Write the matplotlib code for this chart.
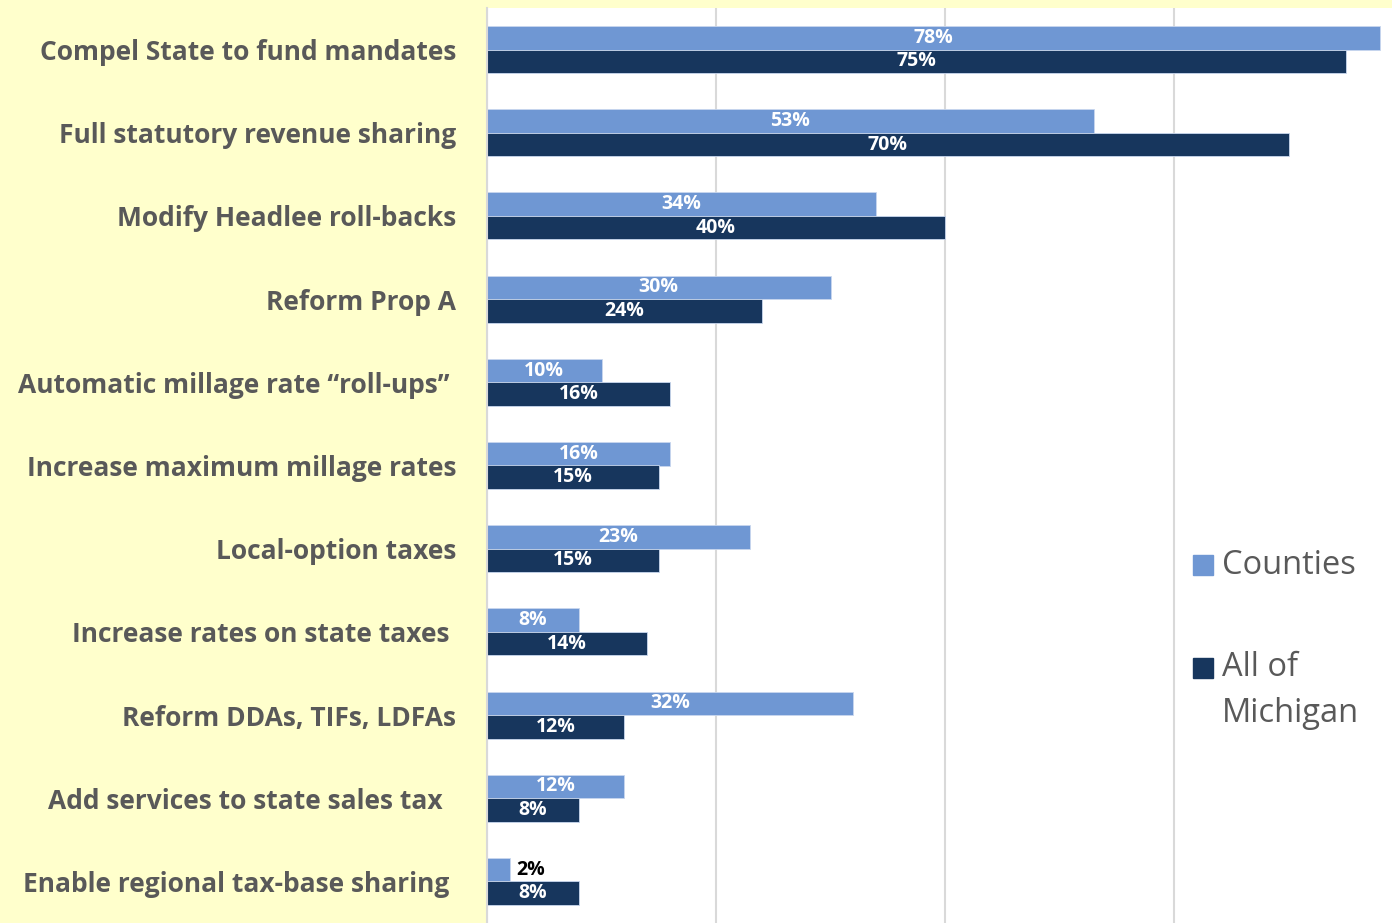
import numpy as np
from matplotlib import pyplot as plt
from matplotlib.patches import Rectangle

categories = ["Compel State to fund mandates", "Full statutory revenue sharing",
              "Modify Headlee roll-backs", "Reform Prop A",
              "Automatic millage rate \u201croll-ups\u201d ", "Increase maximum millage rates",
              "Local-option taxes", "Increase rates on state taxes ",
              "Reform DDAs, TIFs, LDFAs", "Add services to state sales tax  ",
              "Enable regional tax-base sharing "]
counties = [78, 53, 34, 30, 10, 16, 23, 8, 32, 12, 2]
michigan = [75, 70, 40, 24, 16, 15, 15, 14, 12, 8, 8]
series_names = ["Counties", "All of\nMichigan"]

light = "#6F97D3"
dark = "#17365D"
yellow = "#FFFFCC"
grey = "#595959"

plt.rcParams['font.family'] = ['Open Sans', 'DejaVu Sans']

fig = plt.figure(figsize=(13.92, 9.23), dpi=100, facecolor=yellow)
ax = fig.add_axes([487/1392, 0, 905/1392, 915/923])
ax.set_facecolor("white")

y = np.arange(len(categories))
h = 0.283
b1 = ax.barh(y - h/2, counties, height=h, color=light, edgecolor="#c9d7ee", linewidth=0.6)
b2 = ax.barh(y + h/2, michigan, height=h, color=dark, edgecolor="#c9d7ee", linewidth=0.6)

# data labels, inside unless the bar is too short
for bars, vals in [(b1, counties), (b2, michigan)]:
    for yy, v in zip(bars, vals):
        cy = yy.get_y() + yy.get_height()/2
        if v >= 5:
            ax.text(v/2, cy, f"{v}%", ha="center", va="center", color="white",
                    fontsize=14, fontweight="bold")
        else:
            ax.text(v + 0.6, cy, f"{v}%", ha="left", va="center", color="black",
                    fontsize=14, fontweight="bold")

ax.set_xlim(0, 905/11.45)
ax.set_ylim(len(categories) - 0.5, -0.5)
ax.set_xticks([0, 20, 40, 60])
ax.xaxis.grid(True, color="#D9D9D9", linewidth=1.5)
ax.set_axisbelow(True)
ax.tick_params(axis="x", length=0, labelbottom=False)
ax.set_yticks(y)
ax.set_yticklabels(categories, fontsize=19, fontweight="bold", color=grey)
ax.tick_params(axis="y", length=0, pad=22)
for s in ["top", "right", "bottom"]:
    ax.spines[s].set_visible(False)
ax.spines["left"].set_color("#D9D9D9")
ax.spines["left"].set_linewidth(1.5)

# legend, drawn by hand so the marker sits on the first line
leg_y = [565, 668]
for name, col, ly in zip(series_names, [light, dark], leg_y):
    fig.patches.append(Rectangle((1193/1392, (923-ly-10)/923), 20/1392, 20/923,
                                 transform=fig.transFigure, color=col))
    for k, line in enumerate(name.split("\n")):
        fig.text(1222/1392, (923-ly-45*k)/923, line, fontsize=23.5,
                 color=grey, ha="left", va="center")

fig.savefig("out.png", dpi=100, facecolor=yellow)
